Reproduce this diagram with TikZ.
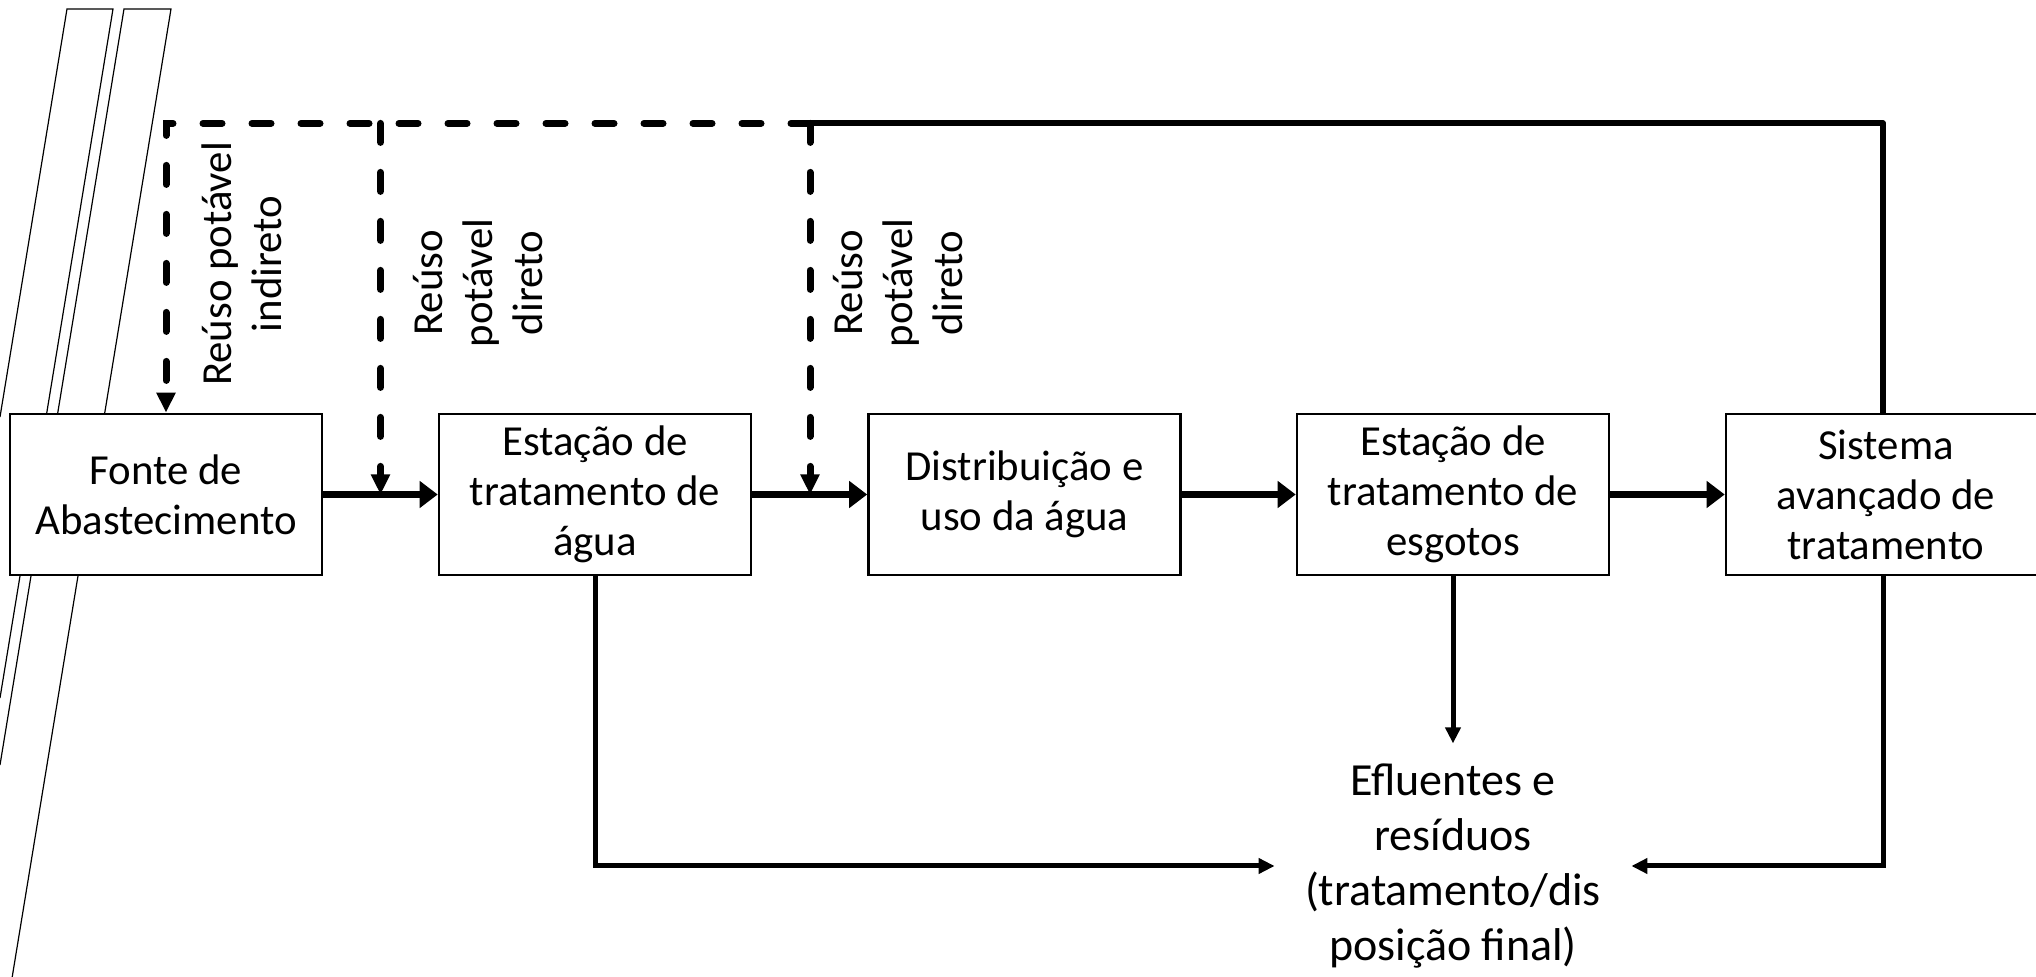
\documentclass[tikz,border=0pt]{standalone}
\usepackage{fontspec}
\setmainfont{Carlito}
\usetikzlibrary{arrows.meta}
\begin{document}
\begin{tikzpicture}[x=0.5pt,y=-0.5pt,
  deco/.style={line width=0.6pt, black},
  box/.style={draw, line width=1.3pt, fill=white, minimum width=156pt, minimum height=80.5pt,
    inner sep=0pt, align=center, font=\fontsize{21.4}{25}\selectfont},
  eff/.style={inner xsep=0pt, inner ysep=10pt, minimum width=178pt, align=center,
    font=\fontsize{23}{27.5}\selectfont},
  lbl/.style={rotate=90, inner sep=0pt, align=center, font=\fontsize{21.4}{25}\selectfont},
  flowarrow/.style={line width=3.5pt, -{Triangle[length=9pt,width=13pt]}},
  thinarrow/.style={line width=2.5pt, -{Triangle[length=8pt,width=7.5pt]}},
  topline/.style={line width=3pt, line join=round},
  dashline/.style={line width=3.5pt, line cap=round, dash pattern=on 9.5pt off 15pt,
    -{Triangle[length=10pt,width=9pt]}},
]
\useasboundingbox (0,0) rectangle (2036,977);

% decorative strips
\draw[deco] (0,417) -- (67,9) -- (113,9) -- (0,698);
\draw[deco] (0,765) -- (124,9) -- (171,9) -- (12.2,977);

% boxes
\node[box] (b1) at (166,494.5) {Fonte de\\Abastecimento};
\node[box] (b2) at (595,494.5) {Estação de\\tratamento de\\água};
\node[box] (b3) at (1024.5,494.5) {Distribuição e\\uso da água};
\node[box] (b4) at (1453,494.5) {Estação de\\tratamento de\\esgotos};
\node[box, minimum width=160pt] (b5) at (1886,494.5) {Sistema\\avançado de\\tratamento};
\node[eff] (ef) at (1453,866) {Efluentes e\\resíduos\\(tratamento/dis\\posição final)};

% labels
\node[lbl] (l1) at (241.5,264) {Reúso potável\\indireto};
\node[lbl] (l2) at (478,283) {Reúso\\potável\\direto};
\node[lbl] (l3) at (898,283) {Reúso\\potável\\direto};

% junctions
\coordinate (j1) at (166,123.4);
\coordinate (j2) at (380.5,123.4);
\coordinate (j3) at (810,123.4);
\coordinate (j4) at (1883,123.4);
\coordinate (m1) at (380.5,494.5);
\coordinate (m2) at (810,494.5);
\coordinate (s5) at (1883,575);
\coordinate (n5) at (1883,414);

% connectors
\draw[topline] (n5) -- (j4) -- (j3);
\draw[dashline] (j3) -- (j1) -- (b1.north);
\draw[dashline] (j2) -- (m1);
\draw[dashline] (j3) -- (m2);

\draw[flowarrow] (b1.east) -- (b2.west);
\draw[flowarrow] (b2.east) -- (b3.west);
\draw[flowarrow] (b3.east) -- (b4.west);
\draw[flowarrow] (b4.east) -- (b5.west);

\draw[thinarrow] (b2.south) |- (ef.west);
\draw[thinarrow] (b4.south) -- (ef.north);
\draw[thinarrow] (s5) |- (ef.east);
\end{tikzpicture}
\end{document}
